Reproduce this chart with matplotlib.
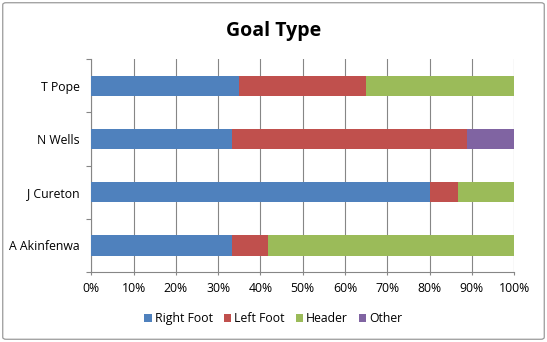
import matplotlib
matplotlib.use("Agg")
import matplotlib.pyplot as plt
from matplotlib.patches import FancyBboxPatch
from matplotlib.ticker import PercentFormatter, FixedLocator
import numpy as np

plt.rcParams["font.family"] = ["Open Sans", "DejaVu Sans"]

# ---------- data (share of goals, %) ----------
players = ["A Akinfenwa", "J Cureton", "N Wells", "T Pope"]
right_foot = [33.3, 80.0, 33.3, 35.0]
left_foot = [8.4, 6.7, 55.6, 30.0]
header = [58.3, 13.3, 0.0, 35.0]
other = [0.0, 0.0, 11.1, 0.0]

series = [
    ("Right Foot", right_foot, "#4F81BD"),
    ("Left Foot", left_foot, "#C0504D"),
    ("Header", header, "#9BBB59"),
    ("Other", other, "#8064A2"),
]

fig = plt.figure(figsize=(5.47, 3.42), dpi=100)
ax = fig.add_axes([0.167, 0.2047, 0.773, 0.622])

# chart border
fig.patches.append(FancyBboxPatch(
    (0.005, 0.008), 0.99, 0.984, boxstyle="round,pad=0,rounding_size=0.006",
    transform=fig.transFigure, fill=False, edgecolor="#9A9A9A", linewidth=0.9,
))

y = np.arange(len(players))
left = np.zeros(len(players))
for name, vals, color in series:
    ax.barh(y, vals, left=left, height=0.38, color=color, label=name, zorder=3)
    left += np.array(vals)

ax.set_xlim(0, 100)
ax.set_ylim(-0.5, len(players) - 0.5)
ax.xaxis.set_major_locator(FixedLocator(np.arange(0, 101, 10)))
ax.xaxis.set_major_formatter(PercentFormatter(decimals=0))
ax.grid(axis="x", color="#868686", linewidth=0.8, zorder=0)

ax.set_yticks(y)
ax.set_yticklabels(players)
ax.set_yticks(np.arange(-0.5, len(players)), minor=True)
ax.tick_params(axis="y", which="major", length=0, pad=8.5, labelsize=8.8)
ax.tick_params(axis="y", which="minor", length=3.5, color="#868686", width=0.8)
ax.tick_params(axis="x", length=2.5, color="#868686", width=0.8, labelsize=8.8, pad=5)

for s in ["top", "right"]:
    ax.spines[s].set_visible(False)
for s in ["left", "bottom"]:
    ax.spines[s].set_color("#868686")
    ax.spines[s].set_linewidth(0.8)

fig.text(0.5, 0.91, "Goal Type", ha="center", va="center",
         fontsize=14, fontweight="bold")

fig.legend(loc="center", bbox_to_anchor=(0.5, 0.068), ncol=4, frameon=False,
           fontsize=8.8, handlelength=0.6, handleheight=0.6, handletextpad=0.25,
           columnspacing=0.9)

fig.savefig("out.png", dpi=100)
